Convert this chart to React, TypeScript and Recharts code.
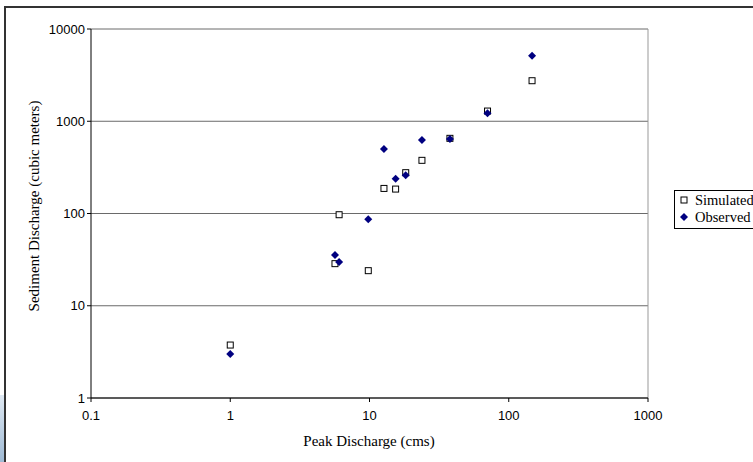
import { ScatterChart, Scatter, XAxis, YAxis, CartesianGrid, ReferenceLine } from "recharts";

const peakDischarge = [1, 5.65, 6.05, 9.8, 12.7, 15.4, 18.2, 23.8, 37.8, 70.4, 147];
const simulated = [3.75, 28.6, 97, 24, 187, 184, 277, 377, 653, 1290, 2750];
const observed = [3.0, 35.5, 29.8, 86.5, 500, 238, 259, 626, 642, 1220, 5140];
const xTicks = [0.1, 1, 10, 100, 1000];
const yTicks = [1, 10, 100, 1000, 10000];

const simData = peakDischarge.map((x, i) => ({ x, y: simulated[i] }));
const obsData = peakDischarge.map((x, i) => ({ x, y: observed[i] }));

const SANS = "'Liberation Sans', Arial, sans-serif";
const SERIF = "'Liberation Serif', 'Times New Roman', serif";

const SquareDot = (props: any) => {
  const { cx, cy } = props;
  return <rect x={cx - 3} y={cy - 3} width={6} height={6} fill="#fff" stroke="#000" strokeWidth={1} />;
};

const DiamondDot = (props: any) => {
  const { cx, cy } = props;
  return <path d={`M${cx},${cy - 4}L${cx + 4},${cy}L${cx},${cy + 4}L${cx - 4},${cy}Z`} fill="#000080" />;
};

export default function App() {
  return (
    <div style={{ position: "fixed", left: 0, top: 0, width: 753, height: 462, background: "#fff", overflow: "hidden" }}>
      {/* chart frame, runs off the right and bottom edges */}
      <div style={{ position: "absolute", left: 4, top: 6, width: 800, height: 500, borderLeft: "2px solid #333", borderTop: "2px solid #333" }} />
      <div style={{ position: "absolute", left: 0, top: 395, width: 4, height: 67, background: "linear-gradient(#dfe9f3, #9fbad4)" }} />
      <div style={{ position: "absolute", left: 0, top: 0 }}>
        <ScatterChart width={753} height={462} margin={{ top: 29, right: 105, bottom: 34, left: 31 }}>
          <CartesianGrid vertical={false} stroke="#6a6a6a" strokeWidth={1} />
          <ReferenceLine x={1000} stroke="#999" />
          <XAxis
            type="number"
            dataKey="x"
            scale="log"
            domain={[0.1, 1000]}
            ticks={xTicks}
            allowDataOverflow
            height={30}
            tickSize={4}
            stroke="#000"
            tick={{ fill: "#000", fontSize: 13, fontFamily: SANS, dy: 7 }}
            tickFormatter={(v: number) => String(v)}
          />
          <YAxis
            type="number"
            dataKey="y"
            scale="log"
            domain={[1, 10000]}
            ticks={yTicks}
            allowDataOverflow
            width={60}
            tickSize={4}
            stroke="#000"
            tick={{ fill: "#000", fontSize: 13, fontFamily: SANS }}
            tickFormatter={(v: number) => String(v)}
          />
          <Scatter name="Simulated" data={simData} shape={SquareDot} isAnimationActive={false} />
          <Scatter name="Observed" data={obsData} shape={DiamondDot} isAnimationActive={false} />
        </ScatterChart>
      </div>
      <div style={{ position: "absolute", left: 369, top: 441, transform: "translate(-50%, -50%)", fontFamily: SERIF, fontSize: 15, whiteSpace: "nowrap" }}>
        Peak Discharge (cms)
      </div>
      <div style={{ position: "absolute", left: 34, top: 206, transform: "translate(-50%, -50%) rotate(-90deg)", fontFamily: SERIF, fontSize: 15, whiteSpace: "nowrap" }}>
        Sediment Discharge (cubic meters)
      </div>
      <div style={{ position: "absolute", left: 674, top: 190, width: 100, height: 36, border: "1px solid #000", fontFamily: SERIF, fontSize: 14.5, lineHeight: "17px", paddingTop: 1 }}>
        <div style={{ display: "flex", alignItems: "center" }}>
          <svg width={20} height={17}><rect x={6} y={5} width={6} height={6} fill="#fff" stroke="#000" /></svg>
          <span>Simulated</span>
        </div>
        <div style={{ display: "flex", alignItems: "center" }}>
          <svg width={20} height={17}><path d="M9,4L13,8L9,12L5,8Z" fill="#000080" /></svg>
          <span>Observed</span>
        </div>
      </div>
    </div>
  );
}
